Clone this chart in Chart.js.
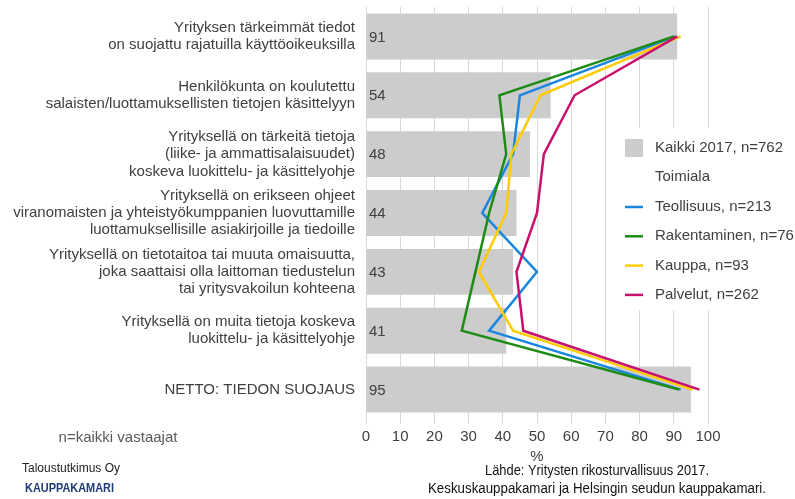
<!DOCTYPE html>
<html>
<head>
<meta charset="utf-8">
<script src="https://cdn.jsdelivr.net/npm/chart.js@4"></script>
<style>
  html, body { margin: 0; padding: 0; background: white; }
  #wrap { position: relative; width: 795px; height: 499px; }
</style>
</head>
<body>
<div id="wrap"><canvas id="chart" width="795" height="499"></canvas></div>
<script>
// categories (multi-line labels)
const categories = [
  ['Yrityksen tärkeimmät tiedot', 'on suojattu rajatuilla käyttöoikeuksilla'],
  ['Henkilökunta on koulutettu', 'salaisten/luottamuksellisten tietojen käsittelyyn'],
  ['Yrityksellä on tärkeitä tietoja', '(liike- ja ammattisalaisuudet)', 'koskeva luokittelu- ja käsittelyohje'],
  ['Yrityksellä on erikseen ohjeet', 'viranomaisten ja yhteistyökumppanien luovuttamille', 'luottamuksellisille asiakirjoille ja tiedoille'],
  ['Yrityksellä on tietotaitoa tai muuta omaisuutta,', 'joka saattaisi olla laittoman tiedustelun', 'tai yritysvakoilun kohteena'],
  ['Yrityksellä on muita tietoja koskeva', 'luokittelu- ja käsittelyohje'],
  ['NETTO: TIEDON SUOJAUS']
];

const kaikki = [91, 54, 48, 44, 43, 41, 95];
const teollisuus = [90.5, 45, 43, 34, 50, 36, 92];
const rakentaminen = [90, 39, 41, 36, 32, 28, 91.5];
const kauppa = [92, 51, 42.5, 41, 33, 43, 95.5];
const palvelut = [91, 61, 52, 50, 44, 46, 97.5];

const xTicks = [0, 10, 20, 30, 40, 50, 60, 70, 80, 90, 100];

const textColor = '#404040';
const fontFam = '"Liberation Sans", Arial, sans-serif';

const lineSets = [
  { label: 'Teollisuus, n=213', data: teollisuus, color: '#1a86e0' },
  { label: 'Rakentaminen, n=76', data: rakentaminen, color: '#1e8c14' },
  { label: 'Kauppa, n=93', data: kauppa, color: '#ffcc00' },
  { label: 'Palvelut, n=262', data: palvelut, color: '#c8106e' }
];

const datasets = [
  {
    type: 'bar',
    label: 'Kaikki 2017, n=762',
    data: kaikki,
    backgroundColor: '#cccccc',
    categoryPercentage: 1,
    barPercentage: 0.78,
    order: 10
  }
];
lineSets.forEach((s, i) => {
  datasets.push({
    type: 'line',
    label: s.label,
    data: s.data,
    borderColor: s.color,
    backgroundColor: s.color,
    borderWidth: 2.5,
    pointRadius: 0,
    tension: 0,
    fill: false,
    indexAxis: 'y',
    order: 4 - i
  });
});

// value labels, legend and footer texts
const extras = {
  id: 'extras',
  afterDatasetsDraw(chart) {
    const {ctx, chartArea} = chart;
    const meta = chart.getDatasetMeta(0);
    ctx.save();
    ctx.font = '15px ' + fontFam;
    ctx.fillStyle = textColor;
    ctx.textBaseline = 'middle';
    ctx.textAlign = 'left';
    meta.data.forEach((el, i) => {
      ctx.fillText(String(kaikki[i]), chartArea.left + 3, el.y + 1);
    });
    ctx.restore();
  },
  afterDraw(chart) {
    const {ctx} = chart;
    ctx.save();
    // legend
    ctx.fillStyle = 'white';
    ctx.fillRect(612, 128, 183, 182);
    ctx.font = '15px ' + fontFam;
    ctx.textBaseline = 'middle';
    ctx.textAlign = 'left';
    ctx.fillStyle = '#cccccc';
    ctx.fillRect(625, 139, 18, 18);
    ctx.fillStyle = textColor;
    ctx.fillText(datasets[0].label, 655, 148);
    ctx.fillText('Toimiala', 655, 177);
    lineSets.forEach((s, i) => {
      const y = 207 + i * 29.3;
      ctx.strokeStyle = s.color;
      ctx.lineWidth = 2.5;
      ctx.beginPath();
      ctx.moveTo(625, y);
      ctx.lineTo(643, y);
      ctx.stroke();
      ctx.fillStyle = textColor;
      ctx.fillText(s.label, 655, y);
    });

    // footer
    ctx.fillStyle = '#595959';
    ctx.textAlign = 'center';
    ctx.fillText('n=kaikki vastaajat', 118, 438);

    ctx.textAlign = 'left';
    ctx.fillStyle = '#222222';
    ctx.font = '12px ' + fontFam;
    ctx.fillText('Taloustutkimus Oy', 22, 469, 100);
    ctx.fillStyle = '#1f3b7a';
    ctx.font = 'bold 12px ' + fontFam;
    ctx.fillText('KAUPPAKAMARI', 25, 489, 89);

    ctx.fillStyle = '#111111';
    ctx.textAlign = 'center';
    ctx.font = '14px ' + fontFam;
    ctx.fillText('Lähde: Yritysten rikosturvallisuus 2017.', 597, 471, 224);
    ctx.fillText('Keskuskauppakamari ja Helsingin seudun kauppakamari.', 597, 489, 338);
    ctx.restore();
  }
};

new Chart(document.getElementById('chart'), {
  type: 'bar',
  data: { labels: categories, datasets: datasets },
  options: {
    indexAxis: 'y',
    responsive: false,
    animation: false,
    layout: { padding: { top: 7, right: 87, bottom: 33, left: 0 } },
    plugins: {
      legend: { display: false },
      tooltip: { enabled: false }
    },
    scales: {
      x: {
        min: 0,
        max: 100,
        afterBuildTicks: (scale) => { scale.ticks = xTicks.map(v => ({ value: v })); },
        afterFit: (scale) => { scale.height = 47; scale.paddingLeft = 0; scale.paddingRight = 0; },
        grid: { color: '#d9d9d9', drawTicks: true, tickLength: 5, tickColor: '#d9d9d9' },
        border: { display: false },
        ticks: {
          color: textColor,
          font: { size: 15, family: fontFam },
          padding: 4,
          maxRotation: 0
        },
        title: {
          display: true,
          text: '%',
          color: textColor,
          font: { size: 15, family: fontFam },
          padding: { top: 0, bottom: 0 }
        }
      },
      y: {
        afterFit: (scale) => { scale.width = 366; scale.paddingTop = 0; scale.paddingBottom = 0; },
        grid: { display: false, drawTicks: false },
        border: { display: false },
        ticks: {
          color: textColor,
          font: { size: 15, family: fontFam, lineHeight: 1.15 },
          padding: 11,
          autoSkip: false
        }
      }
    }
  },
  plugins: [extras]
});
</script>
</body>
</html>
